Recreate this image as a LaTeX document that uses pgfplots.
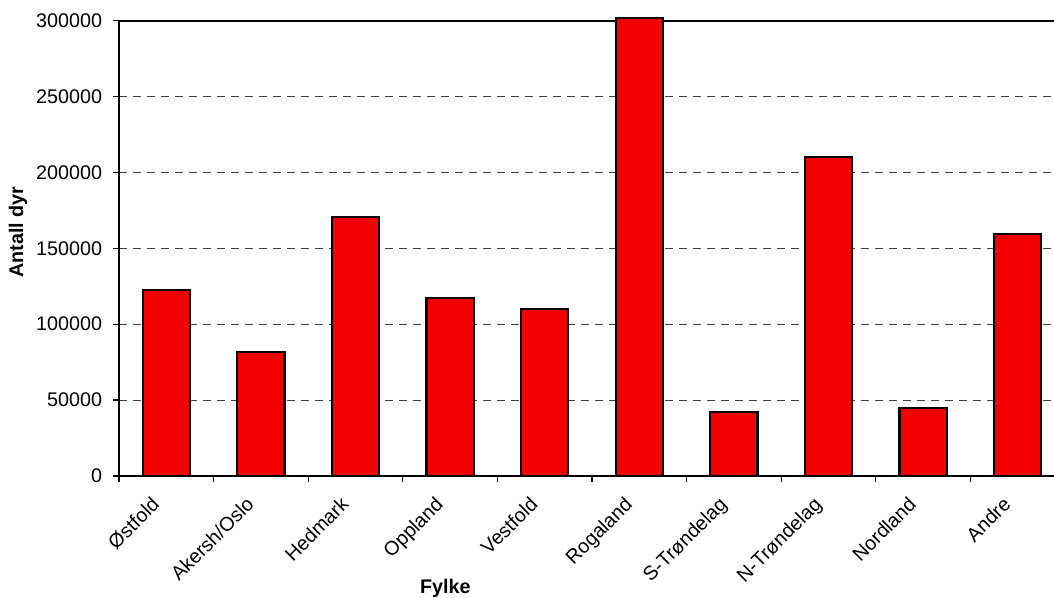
\documentclass[border=0pt]{standalone}
\usepackage{pgfplots}
\pgfplotsset{compat=1.18}
\usepackage{fontspec}
\setmainfont{Liberation Sans}
\definecolor{barred}{RGB}{242,0,0}
\begin{document}
\begin{tikzpicture}[x=1pt,y=1pt]
\begin{axis}[
  at={(0,0)}, anchor=south west,
  scale only axis,
  width=709.5pt, height=341.6pt,
  xmin=-0.5, xmax=9.5,
  ymin=0, ymax=300000,
  clip=false,
  ytick={0,50000,...,300000},
  xtick={0,...,9},
  xticklabels={Østfold,Akersh/Oslo,Hedmark,Oppland,Vestfold,Rogaland,S-Trøndelag,N-Trøndelag,Nordland,Andre},
  minor xtick={-0.5,0.5,...,9.5},
  major x tick style={draw=none},
  xtick pos=bottom, ytick pos=left,
  tick align=outside,
  major tick length=4.5pt,
  minor tick length=4.5pt,
  tick style={black, line width=1pt},
  axis line style={black, line width=1.5pt},
  ymajorgrids,
  grid style={black!75, dash pattern=on 6pt off 4.5pt, line width=0.6pt},
  scaled y ticks=false,
  /pgf/number format/assume math mode=true,
  yticklabel={\pgfmathprintnumber[fixed,1000 sep={}]{\tick}},
  tick label style={font=\fontsize{14.8}{17}\selectfont},
  yticklabel style={inner sep=1pt, xshift=-7pt},
  xticklabel style={xshift=-12pt, yshift=-10pt, rotate=45, anchor=north east, inner sep=0pt},
  ylabel={Antall dyr},
  xlabel={Fylke},
  label style={font=\bfseries\fontsize{14.8}{17}\selectfont},
  ylabel style={at={(axis description cs:-0.1068,0.5357)}, anchor=center},
  xlabel style={at={(axis description cs:0.345,-0.2459)}, anchor=center},
]
\addplot[ybar, bar width=0.5, fill=barred, draw=black, line width=1.6pt]
  coordinates {(0,122500) (1,81900) (2,170400) (3,117100) (4,109800) (5,301500) (6,42000) (7,210300) (8,44800) (9,159400)};
\end{axis}
\pgfresetboundingbox
\path[use as bounding box] (-89.25pt,-91.5pt) rectangle (701.25pt,357pt);
\end{tikzpicture}
\end{document}
